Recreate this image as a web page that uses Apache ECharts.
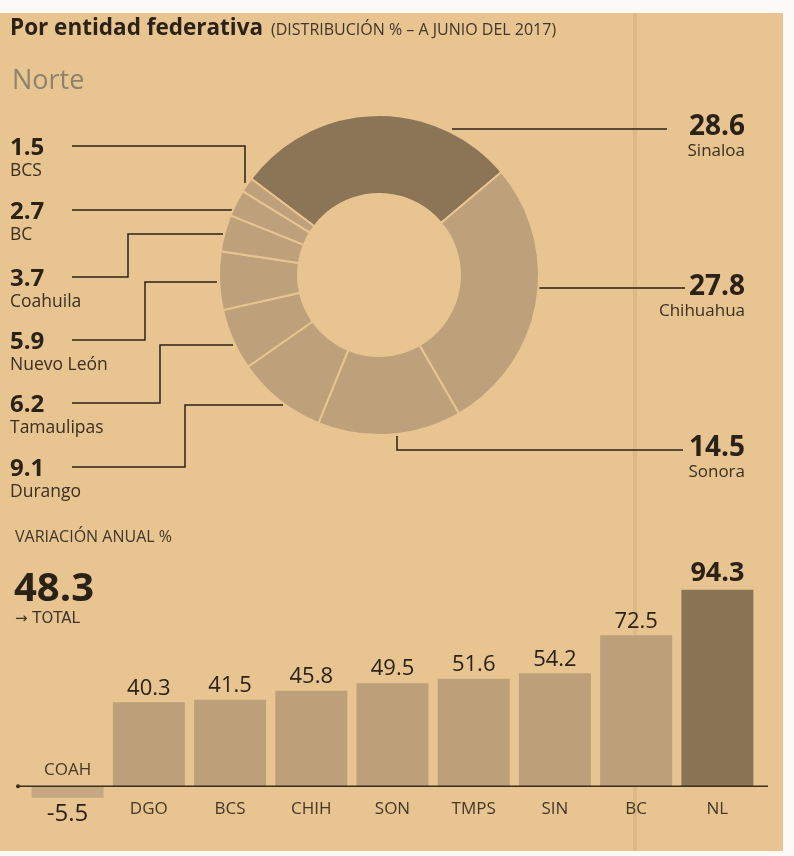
<!DOCTYPE html>
<html>
<head>
<meta charset="utf-8">
<script src="https://cdn.jsdelivr.net/npm/echarts@6/dist/echarts.min.js"></script>
<style>
  html, body { margin: 0; padding: 0; background: #fff; }
  #main { width: 794px; height: 856px; }
</style>
</head>
<body>
<div id="main"></div>
<script>
// distribución % por entidad (donut), a junio 2017
const shareStates = ['Sinaloa', 'Chihuahua', 'Sonora', 'Durango', 'Tamaulipas', 'Nuevo León', 'Coahuila', 'BC', 'BCS'];
const shareValues = [28.6, 27.8, 14.5, 9.1, 6.2, 5.9, 3.7, 2.7, 1.5];

// variación anual % (barras)
const varCodes = ['COAH', 'DGO', 'BCS', 'CHIH', 'SON', 'TMPS', 'SIN', 'BC', 'NL'];
const varValues = [-5.5, 40.3, 41.5, 45.8, 49.5, 51.6, 54.2, 72.5, 94.3];
const varTotal = 48.3;

const PAPER = '#e8c491';
const INK = '#2a2117';
const FONT = '"Open Sans", "Noto Sans", sans-serif';

// leader lines + label spots for the donut (layout only)
const leaders = {
  'Sinaloa':    { side: 'r', ty: 112, pts: [[452, 129], [667, 129]] },
  'Chihuahua':  { side: 'r', ty: 272, pts: [[537, 288], [685, 288]] },
  'Sonora':     { side: 'r', ty: 433, pts: [[397, 436], [397, 450], [683, 450]] },
  'Durango':    { side: 'l', ty: 456, pts: [[283, 405], [185, 405], [185, 467], [72, 467]] },
  'Tamaulipas': { side: 'l', ty: 392, pts: [[233, 345], [160, 345], [160, 403], [72, 403]] },
  'Nuevo León': { side: 'l', ty: 329, pts: [[217, 282], [145, 282], [145, 340], [72, 340]] },
  'Coahuila':   { side: 'l', ty: 266, pts: [[223, 234], [128, 234], [128, 277], [72, 277]] },
  'BC':         { side: 'l', ty: 199, pts: [[233, 210], [72, 210]] },
  'BCS':        { side: 'l', ty: 135, pts: [[245, 183], [245, 146], [72, 146]] }
};

const chart = echarts.init(document.getElementById('main'));

const option = {
  backgroundColor: PAPER,
  animation: false,
  grid: { left: 27, right: 36, top: 578, bottom: 49 },
  xAxis: {
    type: 'category',
    data: varCodes,
    axisLine: { show: false },
    axisTick: { show: false },
    axisLabel: {
      margin: -6,
      fontFamily: FONT,
      fontSize: 17,
      color: '#45382a',
      formatter: v => (v === 'COAH' ? '' : v)
    }
  },
  yAxis: { type: 'value', min: -10, max: 100, show: false },
  series: [
    {
      type: 'pie',
      center: [379, 275],
      radius: [81, 160],
      startAngle: 143,
      clockwise: true,
      avoidLabelOverlap: false,
      itemStyle: { borderColor: PAPER, borderWidth: 2 },
      emphasis: { disabled: true },
      label: {
        show: true,
        position: 'outside',
        formatter: p => leaders[p.name].side === 'l'
          ? '{v|' + p.value.toFixed(1) + '}\n{n|' + p.name + '}'
          : '{rv|' + p.value.toFixed(1) + '}\n{rn|' + p.name + '}',
        rich: {
          v: { fontFamily: FONT, fontSize: 24, fontWeight: 'bold', color: INK, lineHeight: 26 },
          n: { fontFamily: FONT, fontSize: 17.5, color: '#3a2f22', lineHeight: 20 },
          rv: { fontFamily: FONT, fontSize: 28, fontWeight: 'bold', color: INK, lineHeight: 30, align: 'right' },
          rn: { fontFamily: FONT, fontSize: 17, color: '#3a2f22', lineHeight: 18, align: 'right' }
        }
      },
      labelLine: { show: true, lineStyle: { color: INK, width: 1.5 } },
      labelLayout: p => {
        const l = leaders[shareStates[p.dataIndex]];
        return {
          x: l.side === 'l' ? 10 : 745,
          y: l.ty,
          align: l.side === 'l' ? 'left' : 'right',
          verticalAlign: 'top',
          labelLinePoints: l.pts
        };
      },
      data: shareStates.map((name, i) => ({
        name: name,
        value: shareValues[i],
        itemStyle: { color: i === 0 ? '#8c7457' : '#bea07b' }
      }))
    },
    {
      type: 'bar',
      barWidth: 72,
      label: {
        show: true,
        position: 'top',
        distance: 3,
        fontFamily: FONT,
        fontSize: 22,
        color: INK,
        formatter: p => p.value.toFixed(1)
      },
      data: varValues.map((v, i) => {
        const item = { value: v, itemStyle: { color: '#bd9f7a' } };
        if (v < 0) {
          item.itemStyle.color = '#c5a882';
          item.label = {
            position: 'inside',
            formatter: p => '{c|' + varCodes[p.dataIndex] + '}\n{g|}\n{v|' + p.value.toFixed(1) + '}',
            rich: {
              c: { fontFamily: FONT, fontSize: 17, color: '#45382a', lineHeight: 22 },
              g: { lineHeight: 22 },
              v: { fontFamily: FONT, fontSize: 24, color: INK, lineHeight: 22 }
            }
          };
        }
        if (v === Math.max(...varValues)) {
          item.itemStyle.color = '#8b7456';
          item.label = { fontWeight: 'bold', fontSize: 27 };
        }
        return item;
      })
    }
  ]
};

chart.setOption(option);

// axis line through zero, slightly wider than the bar area, plus texts
const zeroY = chart.convertToPixel({ gridIndex: 0 }, [0, 0])[1];

chart.setOption({
  graphic: [
    { type: 'rect', shape: { x: 633, y: 0, width: 4, height: 856 }, style: { fill: 'rgba(150,115,70,0.13)' }, silent: true, z: -10 },
    { type: 'rect', shape: { x: 0, y: 0, width: 794, height: 13 }, style: { fill: '#fbfaf7' }, silent: true },
    { type: 'rect', shape: { x: 783, y: 0, width: 11, height: 856 }, style: { fill: '#fbfaf7' }, silent: true },
    { type: 'rect', shape: { x: 0, y: 851, width: 794, height: 5 }, style: { fill: '#fbfaf7' }, silent: true },
    { type: 'line', shape: { x1: 18, y1: zeroY, x2: 768, y2: zeroY }, style: { stroke: '#3a2e20', lineWidth: 1.5 }, z: 10 },
    { type: 'circle', shape: { cx: 18, cy: zeroY, r: 2 }, style: { fill: '#3a2e20' }, z: 10 },
    { type: 'text', x: 10, y: 29, style: { text: 'Por entidad federativa', font: 'bold 22.5px ' + FONT, fill: INK, textVerticalAlign: 'middle' } },
    { type: 'text', x: 271, y: 30, style: { text: '(DISTRIBUCIÓN % – A JUNIO DEL 2017)', font: '16px ' + FONT, fill: '#40352a', textVerticalAlign: 'middle' } },
    { type: 'text', x: 12, y: 81, style: { text: 'Norte', font: '27px ' + FONT, fill: '#8d826e', textVerticalAlign: 'middle' } },
    { type: 'text', x: 15, y: 537, style: { text: 'VARIACIÓN ANUAL %', font: '16px ' + FONT, fill: '#40352a', textVerticalAlign: 'middle' } },
    { type: 'text', x: 14, y: 590, style: { text: varTotal.toFixed(1), font: 'bold 40px ' + FONT, fill: INK, textVerticalAlign: 'middle' } },
    { type: 'text', x: 15, y: 619, style: { text: '→ TOTAL', font: '15px "DejaVu Sans", ' + FONT, fill: '#40352a', textVerticalAlign: 'middle' } }
  ]
});
</script>
</body>
</html>
